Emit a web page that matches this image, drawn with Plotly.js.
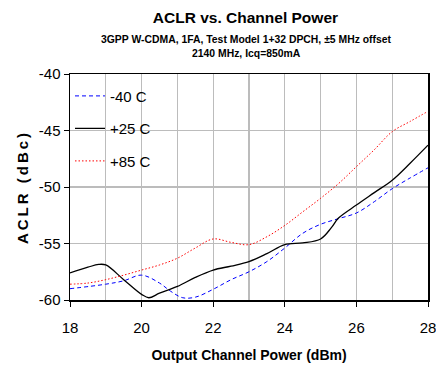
<!DOCTYPE html>
<html>
<head>
<meta charset="utf-8">
<script src="https://cdn.plot.ly/plotly-3.0.1.min.js"></script>
<style>
body{margin:0;padding:0;background:#fff;}
#chart{width:436px;height:367px;}
</style>
</head>
<body>
<div id="chart"></div>
<script>
const xBlue = [18, 19, 19.5, 20, 20.5, 20.8, 21.15, 21.5, 22, 22.5, 23, 23.5, 24, 24.5, 25, 25.5, 26, 26.5, 27, 27.5, 28];
const yBlue = [-59.0, -58.6, -58.3, -57.8, -58.5, -59.2, -59.8, -59.75, -59.05, -58.2, -57.5, -56.6, -55.4, -54.1, -53.3, -52.8, -52.3, -51.3, -50.15, -49.2, -48.3];

const xBlack = [18, 18.5, 18.8, 19, 19.5, 20, 20.2, 20.5, 21, 21.5, 22, 22.5, 23, 23.5, 24, 24.5, 25, 25.3, 25.5, 26, 26.5, 27, 27.5, 28];
const yBlack = [-57.6, -57.1, -56.85, -56.9, -58.2, -59.5, -59.8, -59.4, -58.8, -58.0, -57.35, -57.0, -56.6, -55.9, -55.1, -54.95, -54.6, -53.6, -52.75, -51.6, -50.5, -49.4, -47.9, -46.3];

const xRed = [18, 18.5, 19, 19.5, 20, 20.5, 21, 21.5, 22, 22.5, 23, 23.5, 24, 24.5, 25, 25.5, 26, 26.5, 27, 27.5, 28];
const yRed = [-58.6, -58.5, -58.2, -57.8, -57.35, -56.9, -56.3, -55.4, -54.6, -54.9, -55.1, -54.4, -53.4, -52.2, -51.0, -49.7, -48.2, -46.7, -45.1, -44.2, -43.3];

const seriesNames = ["-40 C", "+25 C", "+85 C"];

const yTickVals = [-60, -55, -50, -45, -40];
const yTickText = ["-60", "-55", "-50", "-45", "-40"];

const traces = [
  {x: xBlue, y: yBlue, name: seriesNames[0], mode: "lines", legendgroup: "a",
   line: {color: "#0000ff", width: 1, dash: "4px,3px", shape: "spline", smoothing: 1}},
  {x: xBlack, y: yBlack, name: seriesNames[1], mode: "lines", legendgroup: "b",
   line: {color: "#000000", width: 1.3, shape: "spline", smoothing: 1}},
  {x: xRed, y: yRed, name: seriesNames[2], mode: "lines", legendgroup: "c",
   line: {color: "#ff0000", width: 1, dash: "1.5px,2px", shape: "spline", smoothing: 1}}
];

const font = "'Liberation Sans', Arial, sans-serif";
const layout = {
  width: 436, height: 367,
  margin: {l: 70, r: 8, t: 74, b: 67},
  paper_bgcolor: "#fff", plot_bgcolor: "#fff",
  font: {family: font, color: "#000", size: 14},
  title: {text: "<b>ACLR vs. Channel Power</b>", font: {family: font, size: 15.5, color: "#000"},
          x: 0.563, xanchor: "center", y: 0.952, yanchor: "middle"},
  annotations: [
    {text: "<b>3GPP W-CDMA, 1FA, Test Model 1+32 DPCH, ±5 MHz offset</b>", xref: "paper", yref: "paper",
     x: 0.492, y: 1, xanchor: "center", yanchor: "bottom", yshift: 27, showarrow: false,
     font: {family: font, size: 10.4, color: "#000"}},
    {text: "<b>2140 MHz, Icq=850mA</b>", xref: "paper", yref: "paper",
     x: 0.492, y: 1, xanchor: "center", yanchor: "bottom", yshift: 13, showarrow: false,
     font: {family: font, size: 10.4, color: "#000"}}
  ],
  shapes: [
    {type: "rect", xref: "paper", yref: "paper", x0: 0, x1: 0.26, y0: 0.553, y1: 1,
     fillcolor: "#ffffff", line: {width: 0}, layer: "between"}
  ],
  xaxis: {
    range: [18, 28], dtick: 2, tick0: 18,
    showgrid: true, gridcolor: "#bcbcbc", gridwidth: 1.3,
    minor: {dtick: 1, tick0: 18, showgrid: true, gridcolor: "#bcbcbc", gridwidth: 1.3},
    ticks: "outside", ticklen: 5, tickcolor: "#000",
    ticklabelstandoff: 8, ticklabeloverflow: "allow",
    showline: true, linecolor: "#000", linewidth: 1.5, mirror: true,
    zeroline: false,
    tickfont: {family: font, size: 15, color: "#000"},
    title: {text: "<b>Output Channel Power (dBm)</b>", font: {family: font, size: 14, color: "#000"}, standoff: 15}
  },
  yaxis: {
    range: [-60, -40], tickvals: yTickVals, ticktext: yTickText,
    showgrid: true, gridcolor: "#bcbcbc", gridwidth: 1.3,
    ticks: "outside", ticklen: 5, tickcolor: "#000",
    showline: true, linecolor: "#000", linewidth: 1.5, mirror: true,
    zeroline: false,
    tickfont: {family: font, size: 15, color: "#000"},
    title: {text: "<b>ACLR (dBc)</b>", font: {family: font, size: 15, color: "#000"}, standoff: 6}
  },
  showlegend: true,
  legend: {
    x: 0.0, y: 0.975, xanchor: "left", yanchor: "top",
    bgcolor: "rgba(0,0,0,0)", borderwidth: 0,
    font: {family: font, size: 15, color: "#000"},
    traceorder: "grouped", tracegroupgap: 10,
    itemwidth: 30
  }
};

Plotly.newPlot("chart", traces, layout, {displayModeBar: false, staticPlot: true}).then(function (gd) {
  const t = gd.querySelector(".ytitle");
  if (t) { t.style.letterSpacing = "3px"; }
});
</script>
</body>
</html>
